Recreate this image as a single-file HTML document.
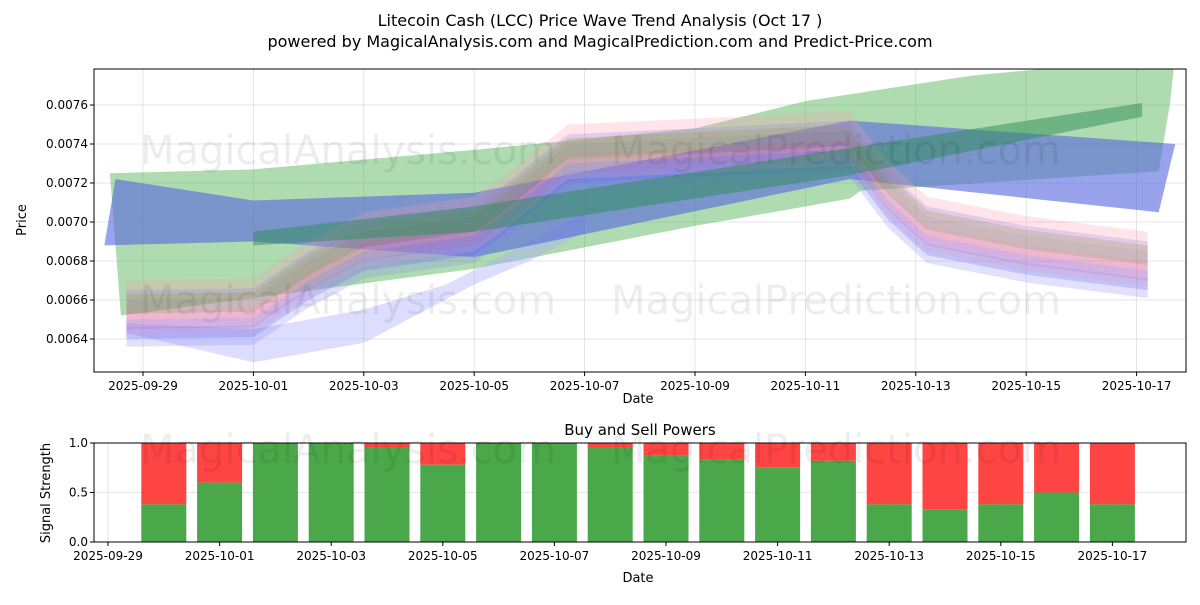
<!DOCTYPE html>
<html><head><meta charset="utf-8"><style>
body{margin:0;background:#fff;font-family:"Liberation Sans","DejaVu Sans",sans-serif}
svg text{font-family:"DejaVu Sans","Liberation Sans",sans-serif}
</style></head><body>
<svg width="1200" height="600" xmlns="http://www.w3.org/2000/svg">
<rect width="1200" height="600" fill="#fff"/>
<text x="600" y="26" text-anchor="middle" font-size="16">Litecoin Cash (LCC) Price Wave Trend Analysis (Oct 17 )</text>
<text x="600" y="47" text-anchor="middle" font-size="16">powered by MagicalAnalysis.com and MagicalPrediction.com and Predict-Price.com</text>
<g id="main"></g>
<g id="bottom"></g>
</svg>
<script>
const NS="http://www.w3.org/2000/svg";
// main chart data (day 0 = 2025-09-29)
const priceDays=[-0.3,2.0,3.0,4.0,6.0,6.5,7.7,10.0,12.8,13.5,14.2,16.0,18.2];
const priceVals=[0.00655,0.00656,0.00675,0.00690,0.00698,0.00708,0.00735,0.00738,0.00742,0.00716,0.00698,0.00688,0.00680];
const bandOffsets=[0,0.00005,-0.00005,0.0001,-0.0001,0.00003,-0.00008,-0.00014];
const bandColors=["#ff7777","#7777ff","#aa55cc","#ff99aa","#5555ff","#999944","#ffaaaa","#8888ee"];
const lowBandTop=[[-0.3,0.00648],[2,0.00645],[4,0.00655],[5.5,0.00668],[7,0.00690],[8,0.00705]];
const lowBandBot=[[8,0.00695],[7,0.00680],[6,0.00668],[4,0.00638],[2,0.00628],[-0.3,0.00643]];
const greenTop=[[-0.6,0.00725],[2,0.00727],[6,0.00737],[10,0.00748],[12,0.00762],[15,0.00775],[18.7,0.00785]];
const greenBot=[[18.6,0.00760],[18.4,0.00726],[13,0.00716],[12.8,0.00712],[10,0.00698],[6,0.00676],[2,0.00661],[-0.4,0.00652]];
const blueTop=[[-0.5,0.00722],[2,0.00711],[6,0.00715],[12.8,0.00752],[18.7,0.00740]];
const blueBot=[[18.4,0.00705],[12.8,0.00722],[6,0.00682],[2,0.00690],[-0.7,0.00688]];
const trendTop=[[2,0.00695],[6,0.00708],[12.8,0.00738],[18.1,0.00761]];
const trendBot=[[18.1,0.00754],[12.8,0.00724],[6,0.00695],[2,0.00688]];
const yTicks=[0.0064,0.0066,0.0068,0.0070,0.0072,0.0074,0.0076];
const xTickLabels=["2025-09-29","2025-10-01","2025-10-03","2025-10-05","2025-10-07","2025-10-09","2025-10-11","2025-10-13","2025-10-15","2025-10-17"];
// bottom chart data
const buyPower=[0.38,0.6,1.0,1.0,0.95,0.78,1.0,1.0,0.95,0.87,0.83,0.75,0.82,0.38,0.33,0.38,0.5,0.38];
const bTicks=[0,0.5,1.0];

const mx=d=>143+d*55.2, my=v=>105+(0.0076-v)/0.0002*39;
const bx=d=>108+d*55.8, by=v=>542-v*99;
function el(t,a,p){const e=document.createElementNS(NS,t);for(const k in a)e.setAttribute(k,a[k]);p.appendChild(e);return e;}
const main=document.getElementById('main'), bot=document.getElementById('bottom');
const cl=el('clipPath',{id:'mc'},main);el('rect',{x:94,y:69,width:1092,height:303},cl);
yTicks.forEach(v=>{el('line',{x1:94,x2:1186,y1:my(v),y2:my(v),stroke:'#ddd','stroke-width':0.8},main);
 const t=el('text',{x:88,y:my(v)+4,'text-anchor':'end','font-size':12},main);t.textContent=v.toFixed(4);
 el('line',{x1:90,x2:94,y1:my(v),y2:my(v),stroke:'#000'},main);});
xTickLabels.forEach((s,i)=>{const x=mx(i*2);el('line',{x1:x,x2:x,y1:69,y2:372,stroke:'#ddd','stroke-width':0.8},main);
 el('line',{x1:x,x2:x,y1:372,y2:376,stroke:'#000'},main);
 const t=el('text',{x:x,y:390,'text-anchor':'middle','font-size':12},main);t.textContent=s;});
const g=el('g',{'clip-path':'url(#mc)'},main);
function poly(pts,fill,op,name){const p=el('polygon',{points:pts.map(q=>mx(q[0])+','+my(q[1])).join(' '),fill:fill,'fill-opacity':op},g);

}
poly(greenTop.concat(greenBot),'#4caf50',0.45,'green-wave-band');
poly(lowBandTop.concat(lowBandBot),'#aaaaff',0.4,'low-wave-band');
poly(blueTop.concat(blueBot),'#5566dd',0.6,'blue-wave-band');
bandOffsets.forEach((o,i)=>{const w=0.0001;
 const top=priceDays.map((d,j)=>[d,priceVals[j]+o+w/2]);
 const bt=priceDays.map((d,j)=>[d,priceVals[j]+o-w/2]).reverse();
 poly(top.concat(bt),bandColors[i],0.25,'price-wave-band');});
poly(trendTop.concat(trendBot),'#2e8b57',0.5,'trend-band');
['MagicalAnalysis.com','MagicalPrediction.com'].forEach((s,i)=>{[150,300].forEach(y=>{const t=el('text',{x:i?836:348,y:y+14,'text-anchor':'middle','font-size':40,fill:'#000','fill-opacity':0.07},main);t.textContent=s;});});
el('rect',{x:94,y:69,width:1092,height:303,fill:'none',stroke:'#000'},main);
let t=el('text',{x:638,y:403,'text-anchor':'middle','font-size':13},main);t.textContent='Date';
t=el('text',{x:26,y:220,'text-anchor':'middle','font-size':13,transform:'rotate(-90 26 220)'},main);t.textContent='Price';
// bottom
const bc=el('clipPath',{id:'bc'},bot);el('rect',{x:94,y:443,width:1092,height:99},bc);
bTicks.forEach(v=>{el('line',{x1:94,x2:1186,y1:by(v),y2:by(v),stroke:'#ddd','stroke-width':0.8},bot);
 el('line',{x1:90,x2:94,y1:by(v),y2:by(v),stroke:'#000'},bot);
 const t=el('text',{x:88,y:by(v)+4,'text-anchor':'end','font-size':12},bot);t.textContent=v.toFixed(1);});
xTickLabels.forEach((s,i)=>{const x=bx(i*2);el('line',{x1:x,x2:x,y1:443,y2:542,stroke:'#ddd','stroke-width':0.8},bot);
 el('line',{x1:x,x2:x,y1:542,y2:546,stroke:'#000'},bot);
 const t=el('text',{x:x,y:560,'text-anchor':'middle','font-size':12},bot);t.textContent=s;});
const bg=el('g',{'clip-path':'url(#bc)'},bot);
buyPower.forEach((v,i)=>{const x=bx(i+1)-22.5;
 const r=el('rect',{x:x,y:by(1),width:45,height:by(v)-by(1),fill:'#ff4444'},bg);
 
 
 const b=el('rect',{x:x,y:by(v),width:45,height:by(0)-by(v),fill:'#4aa84a'},bg);
 
 });
['MagicalAnalysis.com','MagicalPrediction.com'].forEach((s,i)=>{const t=el('text',{x:i?836:348,y:463,'text-anchor':'middle','font-size':40,fill:'#000','fill-opacity':0.07},bot);t.textContent=s;});
el('rect',{x:94,y:443,width:1092,height:99,fill:'none',stroke:'#000'},bot);
t=el('text',{x:640,y:435,'text-anchor':'middle','font-size':15},bot);t.textContent='Buy and Sell Powers';
t=el('text',{x:638,y:582,'text-anchor':'middle','font-size':13},bot);t.textContent='Date';
t=el('text',{x:50,y:493,'text-anchor':'middle','font-size':13,transform:'rotate(-90 50 493)'},bot);t.textContent='Signal Strength';
</script>
</body></html>
